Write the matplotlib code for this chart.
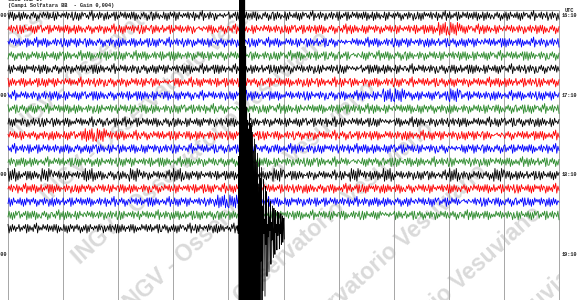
import numpy as np
import matplotlib
matplotlib.use("Agg")
import matplotlib.pyplot as plt
from matplotlib.transforms import IdentityTransform

# ---------------- data ----------------
STATION = "CSOB HHZ IV"
HEADER = "(Campi Solfatara BB  - Gain 0,004)"
ROW_MINUTES = 10
LEFT_LABELS = ["16:00", "17:00", "18:00", "19:00"]
RIGHT_LABELS = ["16:10", "17:10", "18:10", "19:10"]
LABEL_ROWS = [0, 6, 12, 18]
ROW_COLORS = ["#000000", "#ff0000", "#0000ff", "#2e8b2e"]

# short pieces of trace (digits 0..9, 4.5 = zero line)
PIECES = {
    "0": "6273716253", "1": "3726162746", "2": "5374637263", "3": "7162736254",
    "4": "4637265371", "5": "2647361526", "6": "6352748163", "7": "3716274536",
    "8": "7253647172", "9": "4627365162", "A": "9071829061", "B": "0928170938",
    "C": "5464536455", "D": "4556453654",
}
DIGIT_COUNTS = 1.3  # counts per digit step
# each 10-minute row as a sequence of pieces
ROWS = [
    "0352741698205317469C82053716948203759146820357164 9",
    "47182035961473829D056372918405631927480AB163729405",
    "28604173593081649275941602738 5C2604179385172830694",
    "59271360481604839275273916048 58D160539274071628395",
    "71405928362951740683603815297 41C803762950837164952",
    "30817264959273C0614841582097367390416285192603847 5",
    "62940718354837015629163802479 50637AB5718B829360417",
    "85162039742703918465D59163720484637201593927058164",
    "19473026586820537194053927184672 81C063944026185937",
    "2759318AB4065287039413870459265840293617 9173D52806",
    "64829051373019476285827506391446031827 95C173582046",
    "90362815741748360925528079413 62D158703647491206385",
    "A83B274A053B926A17480A51B839267B40A29136A925B03871",
    "46083915270395274816 1C728493506819305274352084719 6",
    "7159382046528361749AB7360194824690357218 2D47058193",
    "18056372947426908153395814062 70471C385925630297184",
]
LAST_ROW = "386201579430285167936"   # black row before the earthquake

# earthquake on the last row (minutes into the row, counts)
EVENT_START = 4.16
EVENT_STEP = 0.009
EVENT_COUNTS = [2, -5, 65, -100, 280,
                -280, 260, -280, 280, -260, 280, -280, 250, -280,
                220, -280, 165, -240, 110, -220,
                98, -165, 90, -130, 104, -120, 95, -110, 93, -98,
                87, -93, 70, -90, 81, -85, 76, -82, 60, -80,
                68, -76, 40, -70, 62, -72, 45, -30, 55, -68,
                20, -57, 44, -5, 8, -62, 38, -15, 33, -44,
                3, -8, 26, -40, 10, -2, 24, -33, 5, -11,
                20, -6, -27, 18, 2, -24, 16, -4, 3, -20,
                15, -7, 2, 14, -19, 3, -5, 13, -15, 4,
                11, -13, 2, 9, -10]

WATERMARK = "INGV - Osservatorio Vesuviano"
WM_LINES = [(47, -100), (115, -80), (183, -100), (251, -118), (319, -116),
            (387, -100), (455, -90), (523, -76), (591, -70)]

# ---------------- layout constants ----------------
W, H = 585, 300
PX_PER_MIN_X = 55.1
X0_PX = 8.0
PX_PER_MIN_Y = 1.328
Y0_PX = 15.5
FRAME_TOP_PX = 10
AMP = 1.1 / PX_PER_MIN_Y  # one count = 1.1 px

fig = plt.figure(figsize=(W / 100, H / 100), dpi=100)

# watermark, clipped to the record frame
wax = fig.add_axes([X0_PX / W, 0, 10 * PX_PER_MIN_X / W, (H - FRAME_TOP_PX) / H])
wax.axis("off")
ang = np.deg2rad(42)
nvec = np.array([np.sin(ang), np.cos(ang)])
dvec = np.array([np.cos(ang), -np.sin(ang)])
for c, s0 in WM_LINES:
    p = c * nvec + s0 * dvec
    wax.text(p[0], H - p[1], WATERMARK, rotation=42, rotation_mode="anchor",
             ha="left", va="baseline", fontsize=16.5, fontweight="bold",
             family="Liberation Sans", color="#dadada",
             transform=IdentityTransform(), clip_on=True, zorder=0)

ax = fig.add_axes([0, 0, 1, 1])
ax.set_xlim(-X0_PX / PX_PER_MIN_X, (W - X0_PX) / PX_PER_MIN_X)
ax.set_ylim((H - Y0_PX) / PX_PER_MIN_Y, -Y0_PX / PX_PER_MIN_Y)
ax.axis("off")

# grid
top = (FRAME_TOP_PX - Y0_PX) / PX_PER_MIN_Y
bottom = (H - Y0_PX) / PX_PER_MIN_Y
ax.vlines(np.arange(0, ROW_MINUTES + 1), top, bottom, color="#a6a6a6", lw=0.7, zorder=1)
ax.hlines(top, 0, ROW_MINUTES, color="#a6a6a6", lw=0.7, zorder=1)


def decode(seq):
    digits = "".join(PIECES[k] for k in seq.replace(" ", ""))
    return (np.array([int(ch) for ch in digits], dtype=float) - 4.5) * DIGIT_COUNTS


for r, seq in enumerate(ROWS):
    v = decode(seq)
    t = np.linspace(0, ROW_MINUTES, len(v))
    ax.plot(t, r * ROW_MINUTES - v * AMP, color=ROW_COLORS[r % 4], lw=0.6, zorder=2)

r = len(ROWS)
v = decode(LAST_ROW)
t = np.linspace(0, EVENT_START, len(v))
ev = np.array(EVENT_COUNTS, dtype=float)
te = EVENT_START + EVENT_STEP * np.arange(1, len(ev) + 1)
ax.plot(np.concatenate([t, te]), r * ROW_MINUTES - np.concatenate([v, ev]) * AMP,
        color=ROW_COLORS[r % 4], lw=0.6, zorder=3)

# labels
lab = dict(family="Liberation Mono", fontweight="bold", fontsize=3.8, color="#222222")
for row, l, rr in zip(LABEL_ROWS, LEFT_LABELS, RIGHT_LABELS):
    ax.text(-0.02, row * ROW_MINUTES, l, ha="right", va="center", **lab)
    ax.text(10.04, row * ROW_MINUTES, rr, ha="left", va="center", **lab)
ax.text(10.11, (11 - Y0_PX) / PX_PER_MIN_Y, "UTC", ha="left", va="center", **lab)
fig.text(X0_PX / W, 1 - (-0.5) / H, STATION, ha="left", va="center", **lab)
fig.text(X0_PX / W, 1 - 5.5 / H, HEADER, ha="left", va="center", **lab)

fig.savefig("out.png", dpi=100)
